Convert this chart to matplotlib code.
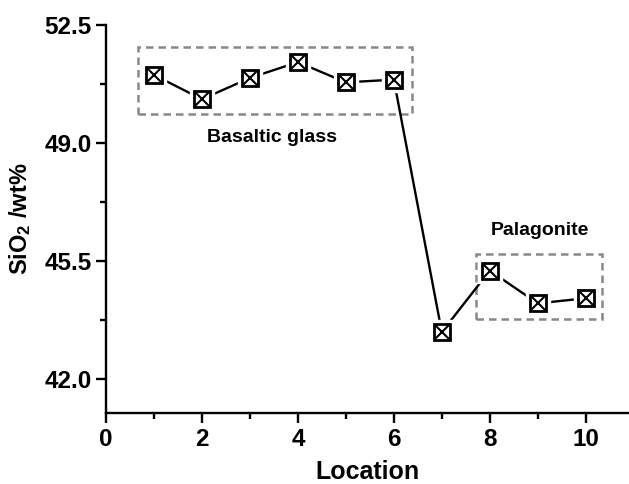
import matplotlib
matplotlib.use('Agg')
import matplotlib.pyplot as plt
import matplotlib.ticker as plticker
from matplotlib.patches import Rectangle

# SiO2 content per location
location = [1, 2, 3, 4, 5, 6, 7, 8, 9, 10]
sio2 = [51.02, 50.30, 50.93, 51.40, 50.80, 50.88, 43.40, 45.22, 44.25, 44.40]

plt.rcParams['font.family'] = ['Liberation Sans', 'DejaVu Sans']
plt.rcParams['font.weight'] = 'bold'
plt.rcParams['mathtext.fontset'] = 'custom'
plt.rcParams['mathtext.bf'] = 'Liberation Sans:bold'
plt.rcParams['mathtext.rm'] = 'Liberation Sans:bold'
plt.rcParams['mathtext.default'] = 'bf'

fig = plt.figure(figsize=(6.29, 4.84), dpi=100)
W, H = 629, 484
ax = fig.add_axes([106 / W, (H - 413) / H, (W - 106) / W, (413 - 25) / H])

# line, then white gaps and boxed-x markers on top
ax.plot(location, sio2, color='black', lw=1.7, zorder=2)
ax.plot(location, sio2, ls='none', marker='s', ms=17, mfc='white', mec='white', zorder=3)
ax.plot(location, sio2, ls='none', marker='s', ms=11.3, mfc='white', mec='black', mew=2.0, zorder=4)
ax.plot(location, sio2, ls='none', marker='x', ms=10.5, mec='black', mew=1.5, zorder=5)

# dashed group boxes
ax.add_patch(Rectangle((0.67, 49.86), 6.37 - 0.67, 51.85 - 49.86, fill=False,
                       ls=(0, (3, 2)), lw=1.8, ec='#888888', zorder=1))
ax.add_patch(Rectangle((7.71, 43.78), 10.35 - 7.71, 45.70 - 43.78, fill=False,
                       ls=(0, (3, 2)), lw=1.8, ec='#888888', zorder=1))
ax.text(3.46, 49.18, 'Basaltic glass', ha='center', va='center', fontsize=14, fontweight='bold')
ax.text(9.05, 46.42, 'Palagonite', ha='center', va='center', fontsize=14, fontweight='bold')

ax.set_xlim(0, (W - 106) / 47.97)
ax.set_ylim(41.0, 52.5)
ax.xaxis.set_major_locator(plticker.MultipleLocator(2))
ax.xaxis.set_minor_locator(plticker.MultipleLocator(1))
ax.yaxis.set_major_locator(plticker.FixedLocator([42.0, 45.5, 49.0, 52.5]))
ax.yaxis.set_minor_locator(plticker.FixedLocator([43.75, 47.25, 50.75]))
ax.yaxis.set_major_formatter(plticker.FormatStrFormatter('%.1f'))

for s in ['top', 'right']:
    ax.spines[s].set_visible(False)
for s in ['left', 'bottom']:
    ax.spines[s].set_linewidth(1.7)
ax.tick_params(axis='both', which='major', direction='out', length=7, width=1.7, labelsize=17.5)
ax.tick_params(axis='both', which='minor', direction='out', length=4, width=1.7)

ax.set_xlabel('Location', fontsize=18, fontweight='bold', labelpad=7)
ax.set_ylabel('SiO$_{\\mathbf{2}}$ /wt%', fontsize=17, fontweight='bold', labelpad=8)

fig.savefig('out.png', dpi=100)
